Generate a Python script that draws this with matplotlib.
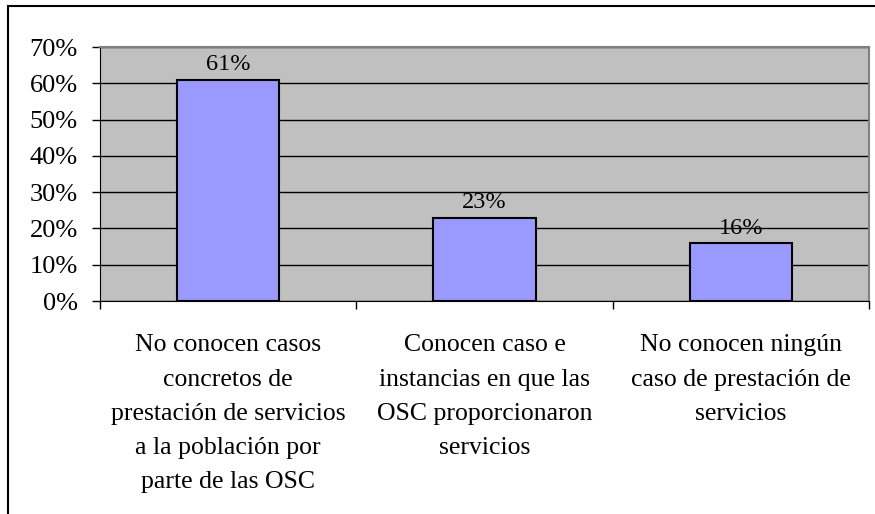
import matplotlib
matplotlib.use("Agg")
import matplotlib.pyplot as plt
from matplotlib.patches import Rectangle

categories = [
    "No conocen casos\nconcretos de\nprestación de servicios\na la población por\nparte de las OSC",
    "Conocen caso e\ninstancias en que las\nOSC proporcionaron\nservicios",
    "No conocen ningún\ncaso de prestación de\nservicios",
]
values = [61, 23, 16]
yticks = [0, 10, 20, 30, 40, 50, 60, 70]

plt.rcParams['font.family'] = ['Liberation Serif', 'DejaVu Serif']

W, H = 875, 514
fig = plt.figure(figsize=(W/100, H/100), dpi=100)
ax = fig.add_axes([100/W, 1-301/H, 769/W, 254/H])
ax.set_facecolor('#C0C0C0')

x = list(range(len(values)))
ax.bar(x, values, width=0.4, color='#9999FF', edgecolor='black', linewidth=1.5, zorder=3)
for xi, v in zip(x, values):
    ax.annotate(f"{v}%", (xi, v), xytext=(0, 3), textcoords='offset points',
                ha='center', va='bottom', fontsize=17.5, zorder=4)

ax.set_xlim(-0.5, 2.5)
ax.set_ylim(0, 70)
ax.set_yticks(yticks)
ax.set_yticklabels([f"{t}%" for t in yticks], fontsize=19)
ax.yaxis.grid(True, color='black', linewidth=1)
ax.set_axisbelow(True)
ax.tick_params(axis='y', direction='out', length=6, width=1, color='black', pad=10)

ax.set_xticks([-0.5, 0.5, 1.5, 2.5])
ax.set_xticklabels([])
ax.tick_params(axis='x', direction='out', length=6, width=1, color='black')
ax.set_xticks(x, minor=True)
ax.set_xticklabels(categories, minor=True, fontsize=18.5, linespacing=1.72)
ax.tick_params(axis='x', which='minor', length=0, pad=24)

for s in ['top', 'right']:
    ax.spines[s].set_color('#808080')
    ax.spines[s].set_linewidth(1.5)
ax.spines['left'].set_color('black')
ax.spines['bottom'].set_color('black')

fig.patches.append(Rectangle((8/W, -0.1), 1.2, 1-6/H+0.1, transform=fig.transFigure,
                             fill=False, edgecolor='black', linewidth=1.5))

fig.savefig('out.png', dpi=100)
